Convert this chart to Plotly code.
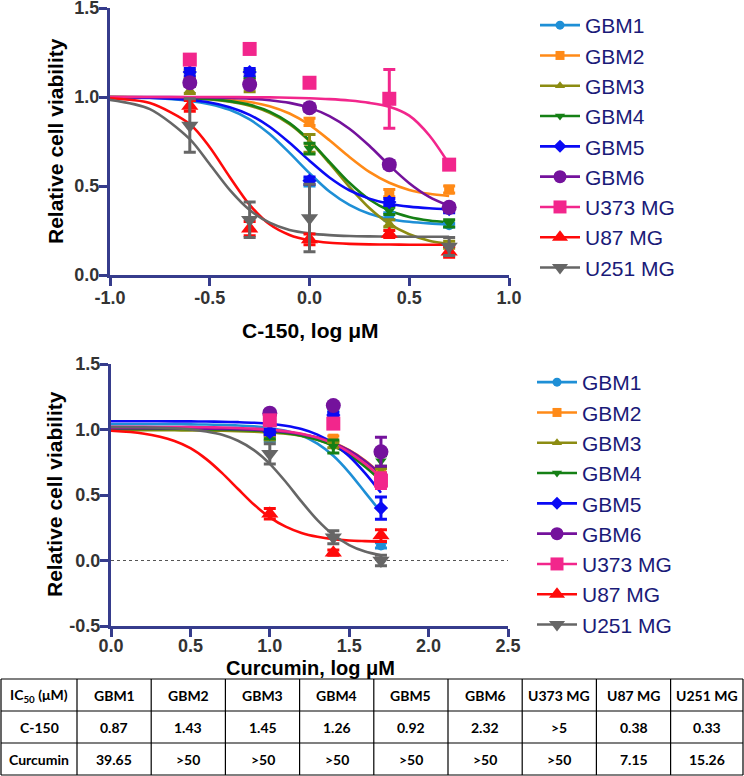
import plotly.graph_objects as go

# ---------------- data ----------------
cell_lines = ["GBM1", "GBM2", "GBM3", "GBM4", "GBM5", "GBM6", "U373 MG", "U87 MG", "U251 MG"]
colors = ["#1E8FD6", "#FF8A17", "#8C8C12", "#158015", "#0A0AF5", "#74129C", "#F2268C", "#FF0A0A", "#666666"]
symbols = ["circle", "square", "triangle-up", "triangle-down", "diamond", "circle", "square", "triangle-up", "triangle-down"]
marker_sizes = [10, 10, 10, 10, 11, 15, 14, 15, 15]
legend_marker_sizes = [9, 9, 9, 9, 10, 13, 13, 14, 14]

# C-150 panel: measured points (log uM)
c150_x = [-0.6, -0.3, 0.0, 0.4, 0.7]
c150_y = {
    "GBM1": [1.12, 1.12, 0.52, 0.33, 0.28],
    "GBM2": [1.13, 1.12, 0.86, 0.46, 0.48],
    "GBM3": [1.04, 1.05, 0.74, 0.29, 0.17],
    "GBM4": [1.12, 1.13, 0.71, 0.36, 0.29],
    "GBM5": [1.14, 1.14, 0.53, 0.41, 0.37],
    "GBM6": [1.08, 1.07, 0.94, 0.62, 0.38],
    "U373 MG": [1.21, 1.27, 1.08, 0.99, 0.62],
    "U87 MG": [0.95, 0.26, 0.20, 0.23, 0.13],
    "U251 MG": [0.84, 0.31, 0.32, None, 0.16],
}
c150_err = {
    "GBM1": [0.02, 0.02, 0.02, 0.02, 0.01],
    "GBM2": [0.02, 0.02, 0.02, 0.02, 0.02],
    "GBM3": [0.02, 0.02, 0.05, 0.02, 0.02],
    "GBM4": [0.02, 0.02, 0.03, 0.02, 0.02],
    "GBM5": [0.02, 0.02, 0.02, 0.02, 0.02],
    "GBM6": [0.02, 0.02, 0.02, 0.02, 0.02],
    "U373 MG": [0.02, 0.02, 0.02, 0.165, 0.02],
    "U87 MG": [0.03, 0.04, 0.03, 0.02, 0.03],
    "U251 MG": [0.15, 0.10, 0.19, 0.0, 0.05],
}
# C-150 panel: fitted dose-response curves
c150_fit_x = [-1.0, -0.8, -0.6, -0.5, -0.4, -0.3, -0.2, -0.1, 0.0, 0.1, 0.2, 0.3, 0.4, 0.5, 0.6, 0.7]
c150_fit = {
    "GBM1": [0.998, 0.994, 0.978, 0.960, 0.928, 0.874, 0.792, 0.686, 0.572, 0.469, 0.394, 0.344, 0.315, 0.299, 0.290, 0.285],
    "GBM2": [1.0, 0.999, 0.996, 0.993, 0.985, 0.972, 0.948, 0.907, 0.843, 0.757, 0.663, 0.579, 0.518, 0.478, 0.456, 0.444],
    "GBM3": [1.0, 0.998, 0.992, 0.986, 0.973, 0.951, 0.911, 0.848, 0.752, 0.628, 0.495, 0.376, 0.287, 0.229, 0.193, 0.174],
    "GBM4": [1.0, 0.999, 0.994, 0.989, 0.977, 0.956, 0.918, 0.853, 0.756, 0.636, 0.518, 0.424, 0.362, 0.326, 0.306, 0.296],
    "GBM5": [0.999, 0.996, 0.983, 0.969, 0.943, 0.900, 0.833, 0.743, 0.642, 0.548, 0.476, 0.429, 0.400, 0.384, 0.375, 0.370],
    "GBM6": [1.0, 1.0, 0.999, 0.997, 0.995, 0.991, 0.982, 0.967, 0.939, 0.893, 0.822, 0.726, 0.616, 0.516, 0.439, 0.388],
    "U373 MG": [1.0, 1.0, 1.0, 1.0, 1.0, 0.999, 0.998, 0.996, 0.993, 0.988, 0.980, 0.967, 0.945, 0.895, 0.785, 0.623],
    "U87 MG": [0.993, 0.966, 0.848, 0.718, 0.551, 0.394, 0.285, 0.225, 0.195, 0.181, 0.175, 0.172, 0.171, 0.170, 0.170, 0.170],
    "U251 MG": [0.984, 0.932, 0.763, 0.622, 0.478, 0.365, 0.294, 0.253, 0.234, 0.224, 0.219, 0.217, 0.216, 0.215, 0.215, 0.215],
}

# Curcumin panel: measured points (log uM)
cur_x = [1.0, 1.4, 1.7]
cur_y = {
    "GBM1": [0.93, 1.12, 0.115],
    "GBM2": [0.97, 0.93, 0.69],
    "GBM3": [0.94, 0.88, 0.68],
    "GBM4": [0.95, 0.87, 0.76],
    "GBM5": [0.98, 1.11, 0.40],
    "GBM6": [1.125, 1.183, 0.83],
    "U373 MG": [1.07, 1.045, 0.61],
    "U87 MG": [0.356, 0.06, 0.19],
    "U251 MG": [0.814, 0.178, 0.0],
}
cur_err = {
    "GBM1": [0.02, 0.02, 0.02],
    "GBM2": [0.02, 0.02, 0.02],
    "GBM3": [0.02, 0.02, 0.02],
    "GBM4": [0.02, 0.05, 0.04],
    "GBM5": [0.02, 0.02, 0.085],
    "GBM6": [0.02, 0.02, 0.11],
    "U373 MG": [0.02, 0.03, 0.06],
    "U87 MG": [0.04, 0.02, 0.045],
    "U251 MG": [0.077, 0.05, 0.04],
}
cur_fit_x = [0.0, 0.2, 0.4, 0.5, 0.6, 0.7, 0.8, 0.9, 1.0, 1.1, 1.2, 1.3, 1.4, 1.5, 1.6, 1.7]
cur_fit = {
    "GBM1": [1.04, 1.04, 1.04, 1.039, 1.038, 1.035, 1.031, 1.024, 1.012, 0.990, 0.953, 0.892, 0.799, 0.671, 0.520, 0.369],
    "GBM2": [1.0, 1.0, 0.999, 0.999, 0.998, 0.997, 0.995, 0.991, 0.985, 0.976, 0.961, 0.937, 0.899, 0.843, 0.764, 0.661],
    "GBM3": [0.995, 0.995, 0.994, 0.993, 0.992, 0.990, 0.987, 0.983, 0.977, 0.967, 0.950, 0.922, 0.878, 0.812, 0.725, 0.625],
    "GBM4": [1.005, 1.005, 1.004, 1.003, 1.002, 1.0, 0.997, 0.992, 0.985, 0.973, 0.953, 0.922, 0.875, 0.806, 0.716, 0.610],
    "GBM5": [1.063, 1.063, 1.062, 1.062, 1.061, 1.059, 1.056, 1.052, 1.044, 1.029, 1.004, 0.961, 0.894, 0.796, 0.667, 0.517],
    "GBM6": [1.01, 1.01, 1.009, 1.008, 1.007, 1.005, 1.002, 0.998, 0.991, 0.981, 0.964, 0.938, 0.898, 0.840, 0.760, 0.660],
    "U373 MG": [1.02, 1.02, 1.019, 1.018, 1.017, 1.015, 1.012, 1.007, 0.999, 0.987, 0.968, 0.938, 0.892, 0.826, 0.738, 0.635],
    "U87 MG": [0.99, 0.97, 0.913, 0.857, 0.774, 0.667, 0.546, 0.427, 0.329, 0.258, 0.210, 0.181, 0.163, 0.153, 0.148, 0.144],
    "U251 MG": [1.019, 1.017, 1.009, 1.001, 0.985, 0.960, 0.914, 0.843, 0.738, 0.601, 0.449, 0.308, 0.196, 0.118, 0.068, 0.039],
}

# IC50 table
table_header = "IC<sub>50</sub> (μM)"
table_rows = ["C-150", "Curcumin"]
ic50_c150 = ["0.87", "1.43", "1.45", "1.26", "0.92", "2.32", ">5", "0.38", "0.33"]
ic50_curcumin = ["39.65", ">50", ">50", ">50", ">50", ">50", ">50", "7.15", "15.26"]

# tick labels
top_x_ticks = [-1.0, -0.5, 0.0, 0.5, 1.0]
top_x_labels = ["-1.0", "-0.5", "0.0", "0.5", "1.0"]
top_y_ticks = [0.0, 0.5, 1.0, 1.5]
top_y_labels = ["0.0", "0.5", "1.0", "1.5"]
bot_x_ticks = [0.0, 0.5, 1.0, 1.5, 2.0, 2.5]
bot_x_labels = ["0.0", "0.5", "1.0", "1.5", "2.0", "2.5"]
bot_y_ticks = [-0.5, 0.0, 0.5, 1.0, 1.5]
bot_y_labels = ["-0.5", "0.0", "0.5", "1.0", "1.5"]

# ---------------- figure ----------------
W, H = 744, 776
AXC = "#363C8C"
TICKC = "#333333"
LEGC = "#1A1A78"
FONT = "Arial, Liberation Sans, sans-serif"
TFONT = "Lato, Open Sans, sans-serif"

fig = go.Figure()


def add_panel(xa, ya, legend, fx, fits, px, pys, perr):
    for name, col in zip(cell_lines, colors):
        fig.add_trace(go.Scatter(
            x=fx, y=fits[name], mode="lines", line=dict(color=col, width=2.6, shape="spline", smoothing=0.8),
            xaxis=xa, yaxis=ya, showlegend=False, hoverinfo="skip"))
    for name, col, sym, ms in zip(cell_lines, colors, symbols, marker_sizes):
        fig.add_trace(go.Scatter(
            x=px, y=pys[name], mode="markers",
            marker=dict(color=col, symbol=sym, size=ms, line=dict(width=0)),
            error_y=dict(type="data", array=perr[name], color=col, thickness=3, width=6),
            xaxis=xa, yaxis=ya, showlegend=False))
    for name, col, sym, ms in zip(cell_lines, colors, symbols, legend_marker_sizes):
        fig.add_trace(go.Scatter(
            x=[None], y=[None], mode="lines+markers", name=name,
            line=dict(color=col, width=2.6),
            marker=dict(color=col, symbol=sym, size=ms),
            xaxis=xa, yaxis=ya, legend=legend, showlegend=True))


add_panel("x", "y", "legend", c150_fit_x, c150_fit, c150_x, c150_y, c150_err)
add_panel("x2", "y2", "legend2", cur_fit_x, cur_fit, cur_x, cur_y, cur_err)


def px_x(p):
    return p / W


def px_y(p):
    return 1 - p / H


# ---- table drawn with paper-referenced lines and text ----
col_widths = [76] + [74.2] * 9
col_edges = [1]
for w in col_widths:
    col_edges.append(min(col_edges[-1] + w, 743))
row_edges = [679, 711, 743, 775]
shapes = []
for xe in col_edges:
    shapes.append(dict(type="line", xref="paper", yref="paper", x0=px_x(xe), x1=px_x(xe),
                       y0=px_y(row_edges[0]), y1=px_y(row_edges[-1]), line=dict(color="black", width=1.2)))
for ye in row_edges:
    shapes.append(dict(type="line", xref="paper", yref="paper", x0=px_x(col_edges[0]), x1=px_x(col_edges[-1]),
                       y0=px_y(ye), y1=px_y(ye), line=dict(color="black", width=1.2)))
shapes.append(dict(type="line", xref="x2", yref="y2", x0=0, x1=2.5, y0=0, y1=0,
                   line=dict(color="#555555", width=1, dash="dot"), layer="below"))

table_grid = [[table_header] + cell_lines,
              [table_rows[0]] + ic50_c150,
              [table_rows[1]] + ic50_curcumin]
annotations = []
for r, row in enumerate(table_grid):
    yc = (row_edges[r] + row_edges[r + 1]) / 2
    for c, txt in enumerate(row):
        xc = (col_edges[c] + col_edges[c + 1]) / 2
        annotations.append(dict(text="<b>" + txt + "</b>", x=px_x(xc), y=px_y(yc), xref="paper", yref="paper",
                                showarrow=False, xanchor="center", yanchor="middle",
                                font=dict(family=TFONT, size=14, color="black")))

annotations += [
    dict(text="<b>Relative cell viability</b>", x=px_x(55), y=px_y(141), xref="paper", yref="paper",
         textangle=-90, showarrow=False, font=dict(family=FONT, size=21, color="black"),
         xanchor="center", yanchor="middle"),
    dict(text="<b>Relative cell viability</b>", x=px_x(55), y=px_y(494), xref="paper", yref="paper",
         textangle=-90, showarrow=False, font=dict(family=FONT, size=21, color="black"),
         xanchor="center", yanchor="middle"),
    dict(text="<b>C-150, log μM</b>", x=px_x(310), y=px_y(330), xref="paper", yref="paper",
         showarrow=False, font=dict(family=FONT, size=21, color="black"),
         xanchor="center", yanchor="middle"),
    dict(text="<b>Curcumin, log μM</b>", x=px_x(310), y=px_y(668), xref="paper", yref="paper",
         showarrow=False, font=dict(family=FONT, size=20, color="black"),
         xanchor="center", yanchor="middle"),
]

axis_common = dict(showline=True, linecolor=AXC, linewidth=3, ticks="outside", tickcolor=AXC,
                   tickwidth=3, ticklen=8, showgrid=False, zeroline=False, automargin=False,
                   ticklabeloverflow="allow",
                   tickfont=dict(family=FONT, size=18, color=TICKC, weight="bold"), tickmode="array")

fig.update_layout(
    width=W, height=H, margin=dict(l=0, r=0, t=0, b=0),
    paper_bgcolor="white", plot_bgcolor="white", template="none",
    xaxis=dict(domain=[px_x(110), px_x(509)], range=[-1.0, 1.0], anchor="y", ticklabelstandoff=-4,
               tickvals=top_x_ticks, ticktext=top_x_labels, **axis_common),
    yaxis=dict(domain=[px_y(275), px_y(8)], range=[0, 1.5], anchor="x", ticklabelstandoff=-4,
               tickvals=top_y_ticks, ticktext=top_y_labels, **axis_common),
    xaxis2=dict(domain=[px_x(111), px_x(508)], range=[0, 2.5], anchor="y2", ticklabelstandoff=-7,
                tickvals=bot_x_ticks, ticktext=bot_x_labels, **axis_common),
    yaxis2=dict(domain=[px_y(626), px_y(364)], range=[-0.5, 1.5], anchor="x2", ticklabelstandoff=-4,
                tickvals=bot_y_ticks, ticktext=bot_y_labels, **axis_common),
    legend=dict(x=px_x(535), y=px_y(5), xanchor="left", yanchor="top", bgcolor="rgba(0,0,0,0)",
                font=dict(family=FONT, size=21, color=LEGC), itemwidth=40, tracegroupgap=0),
    legend2=dict(x=px_x(532), y=px_y(362), xanchor="left", yanchor="top", bgcolor="rgba(0,0,0,0)",
                 font=dict(family=FONT, size=21, color=LEGC), itemwidth=40, tracegroupgap=0),
    showlegend=True,
    shapes=shapes,
    annotations=annotations,
)

fig.write_html("out.html", config={"displayModeBar": False},
               post_script="document.body.style.margin='0';document.body.style.padding='0';")
